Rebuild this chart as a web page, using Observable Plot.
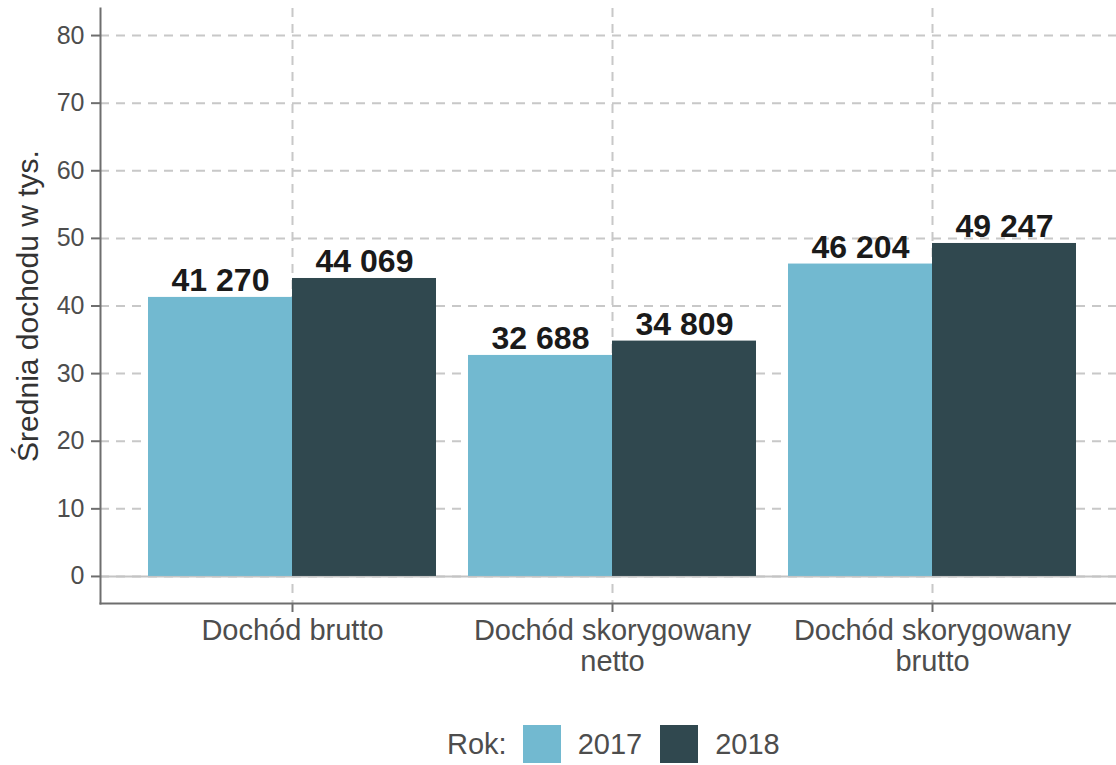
<!DOCTYPE html>
<html>
<head>
<meta charset="utf-8">
<script src="https://cdn.jsdelivr.net/npm/d3@7"></script>
<script src="https://cdn.jsdelivr.net/npm/@observablehq/plot@0.6"></script>
<style>
  html, body { margin: 0; padding: 0; background: #fff; }
  body { position: relative; width: 1116px; height: 765px; overflow: hidden; font-family: "Liberation Sans", Arial, sans-serif; }
  #legend { position: absolute; top: 725px; left: 447px; height: 38px; display: flex; align-items: center; font-size: 29px; color: #4d4d4d; }
  #legend .sw { width: 38px; height: 38px; display: inline-block; }
</style>
</head>
<body>
<div id="chart"></div>
<div id="legend"></div>
<script>
// ---- data ----
const categories = ["Dochód brutto", "Dochód skorygowany netto", "Dochód skorygowany brutto"];
const categoryLabels = ["Dochód brutto", "Dochód skorygowany\nnetto", "Dochód skorygowany\nbrutto"];
const years = ["2017", "2018"];
const values2017 = [41.270, 32.688, 46.204];
const values2018 = [44.069, 34.809, 49.247];
const yTicks = [0, 10, 20, 30, 40, 50, 60, 70, 80];
const yTitle = "Średnia dochodu w tys.";
const legendTitle = "Rok:";
const colors = ["#72b9d0", "#30484f"];

const rows2017 = categories.map((c, i) => ({category: c, year: years[0], value: values2017[i]}));
const rows2018 = categories.map((c, i) => ({category: c, year: years[1], value: values2018[i]}));

const loc = d3.formatLocale({decimal: ",", thousands: " ", grouping: [3], currency: ["", ""]});
const fmt = v => loc.format(",d")(Math.round(v * 1000));

const font = "'Liberation Sans', Arial, sans-serif";
const gridStyle = {stroke: "#c8c8c8", strokeOpacity: 1, strokeWidth: 2, strokeDasharray: "9,7"};
const labelStyle = {fontSize: 32, fontWeight: "bold", fill: "#1a1a1a", lineAnchor: "bottom", dy: -6};

const chart = Plot.plot({
  width: 1116,
  height: 705,
  marginLeft: 100,
  marginRight: 0,
  marginTop: 8,
  marginBottom: 102,
  style: {fontFamily: font, background: "#fff", overflow: "visible"},
  x: {domain: categories, range: [100, 1124], paddingInner: 0.1, paddingOuter: 0.15, round: false},
  y: {domain: [-4, 84]},
  color: {domain: years, range: colors},
  marks: [
    Plot.gridY(yTicks, gridStyle),
    Plot.gridX(categories, gridStyle),
    Plot.ruleY([0], {stroke: "#c4c4c4", strokeWidth: 2}),
    Plot.barY(rows2017, {x: "category", y: "value", fill: "year", insetRight: 144}),
    Plot.barY(rows2018, {x: "category", y: "value", fill: "year", insetLeft: 144}),
    Plot.text(rows2017, {x: "category", y: "value", text: d => fmt(d.value), dx: -72, ...labelStyle}),
    Plot.text(rows2018, {x: "category", y: "value", text: d => fmt(d.value), dx: 72, ...labelStyle}),
    Plot.axisY(yTicks, {
      tickSize: 9, tickPadding: 7, fontSize: 25, fill: "#4d4d4d", stroke: "#6e6e6e", strokeWidth: 2,
      label: yTitle, labelAnchor: "center", labelArrow: "none", labelOffset: 84
    }),
    Plot.axisX({
      tickSize: 9, tickPadding: 6, fontSize: 29, fill: "#4d4d4d", stroke: "#6e6e6e", strokeWidth: 2,
      lineHeight: 1.06, label: null,
      tickFormat: d => categoryLabels[categories.indexOf(d)]
    }),
    Plot.frame({anchor: "left", stroke: "#6e6e6e", strokeWidth: 2}),
    Plot.frame({anchor: "bottom", stroke: "#6e6e6e", strokeWidth: 2})
  ]
});
document.getElementById("chart").appendChild(chart);

// y title size / colour
chart.querySelectorAll('g[aria-label="y-axis label"]').forEach(g => {
  g.setAttribute("font-size", "30");
  g.querySelectorAll("text").forEach(t => { t.setAttribute("font-size", "30"); t.setAttribute("fill", "#333"); });
});

// legend
const legend = document.getElementById("legend");
const title = document.createElement("span");
title.textContent = legendTitle;
title.style.marginRight = "16px";
legend.appendChild(title);
years.forEach((y, i) => {
  const sw = document.createElement("span");
  sw.className = "sw";
  sw.style.background = colors[i];
  sw.style.marginRight = "17px";
  legend.appendChild(sw);
  const lab = document.createElement("span");
  lab.textContent = y;
  lab.style.marginRight = "18px";
  legend.appendChild(lab);
});
</script>
</body>
</html>
